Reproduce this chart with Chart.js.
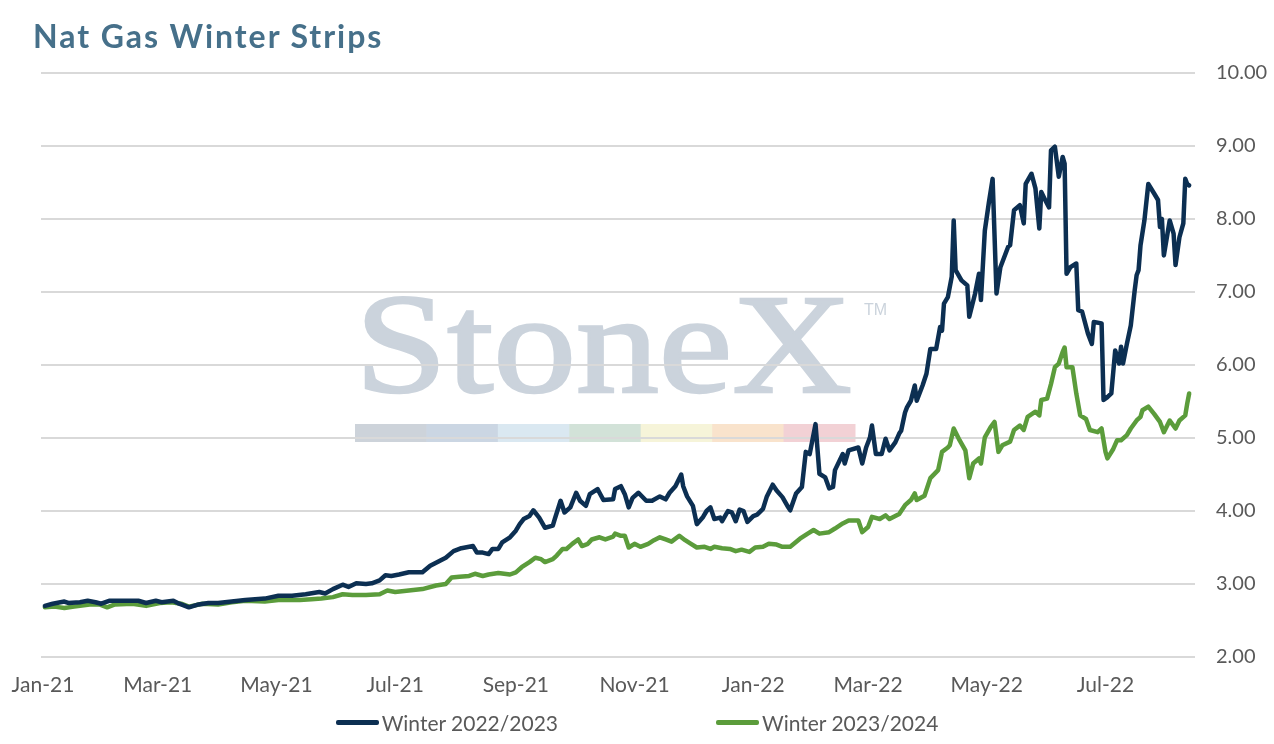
<!DOCTYPE html>
<html>
<head>
<meta charset="utf-8">
<title>Nat Gas Winter Strips</title>
<script src="https://cdn.jsdelivr.net/npm/chart.js@4.4.0/dist/chart.umd.min.js"></script>
<style>
  html, body { margin: 0; padding: 0; background: #ffffff; }
  #wrap { position: relative; width: 1274px; height: 744px; overflow: hidden; }
  #chart { position: absolute; left: 0; top: 0; }
  #title { position: absolute; left: 33px; top: 16px; margin: 0;
           font-family: Lato, sans-serif; font-weight: 700; font-size: 32px;
           letter-spacing: 1.95px; color: #46708a; white-space: nowrap; }
  #legend { position: absolute; left: 0; top: 708px; width: 1274px; height: 28px;
            display: flex; justify-content: center; align-items: center; gap: 158px;
            font-family: Lato, sans-serif; font-size: 21px; color: #595959; }
  .item { display: flex; align-items: center; }
  .swatch { width: 43px; height: 5px; border-radius: 2px; margin-right: 3px; }
</style>
</head>
<body>
<div id="wrap">
  <canvas id="chart" width="1274" height="744"></canvas>
  <div id="title">Nat Gas Winter Strips</div>
  <div id="legend"></div>
</div>
<script>
// Days counted from 2021-01-01
const winter2223Days = [1,5,11,13,19,23,27,30,34,41,49,53,58,61,67,70,75,80,85,90,97,104,114,121,128,135,142,145,149,154,157,161,166,169,173,176,179,183,188,195,199,204,207,211,215,221,223,226,229,231,234,236,240,243,245,247,250,252,255,258,262,263,266,268,271,274,276,279,281,285,286,288,293,294,297,299,301,303,306,310,313,317,320,322,325,328,329,331,334,336,339,341,343,345,348,349,352,354,356,358,360,362,365,367,370,372,375,377,380,383,384,387,390,392,394,397,399,402,404,406,407,411,412,414,419,421,423,425,426,428,431,433,435,438,440,441,443,444,446,448,449,452,454,456,459,461,462,463,465,467,468,469,472,475,476,479,481,482,484,486,488,490,492,496,497,499,502,504,505,508,510,512,513,515,517,518,520,522,524,525,526,528,531,532,534,537,539,540,544,545,547,549,551,553,554,555,557,559,561,562,563,564,566,568,571,573,574,575,576,579,581,582,584,586,587,588,589];
const winter2223Values = [2.70,2.73,2.76,2.74,2.75,2.77,2.75,2.73,2.77,2.77,2.77,2.74,2.77,2.75,2.77,2.73,2.68,2.72,2.74,2.74,2.76,2.78,2.80,2.84,2.84,2.86,2.89,2.87,2.93,2.99,2.96,3.01,3.00,3.01,3.05,3.12,3.11,3.13,3.16,3.16,3.25,3.32,3.36,3.45,3.49,3.52,3.43,3.43,3.41,3.48,3.48,3.57,3.64,3.73,3.82,3.89,3.93,4.01,3.91,3.77,3.80,3.89,4.14,3.98,4.05,4.25,4.14,4.07,4.23,4.30,4.25,4.15,4.16,4.30,4.34,4.23,4.05,4.18,4.25,4.14,4.14,4.20,4.16,4.25,4.34,4.50,4.34,4.20,4.07,3.82,3.91,4.00,4.05,3.89,3.91,3.86,4.00,3.98,3.86,4.02,4.00,3.85,3.93,3.95,4.03,4.20,4.36,4.28,4.19,4.05,4.01,4.24,4.33,4.81,4.78,5.19,4.51,4.46,4.31,4.33,4.56,4.78,4.65,4.83,4.87,4.65,4.87,5.01,5.17,4.78,4.78,4.99,4.83,4.94,5.06,5.10,5.35,5.42,5.51,5.72,5.51,5.72,5.88,6.22,6.22,6.52,6.47,6.84,6.93,7.21,7.98,7.30,7.16,7.09,6.66,6.98,7.25,6.89,7.84,8.21,8.55,6.98,7.34,7.62,7.64,8.12,8.19,7.94,8.48,8.62,8.42,7.87,8.37,8.26,8.16,8.94,8.99,8.58,8.85,8.76,7.25,7.34,7.39,6.75,6.73,6.43,6.29,6.59,6.57,5.52,5.56,5.61,6.20,6.02,6.25,6.02,6.29,6.54,7.02,7.23,7.30,7.64,7.98,8.48,8.35,8.26,7.89,8.00,7.50,7.98,7.80,7.37,7.75,7.94,8.55,8.48,8.46];

const winter2324Days = [1,6,11,16,24,29,33,37,46,53,60,66,71,75,82,90,97,104,114,121,132,138,143,149,154,159,166,173,177,181,188,195,202,207,210,214,219,222,226,229,234,240,243,246,250,253,256,258,262,264,267,269,272,275,277,280,282,286,289,293,294,297,299,301,304,307,311,314,317,320,323,327,330,333,336,340,343,345,349,353,356,359,363,366,370,373,377,380,384,389,393,396,399,404,407,411,414,419,421,424,426,430,433,435,440,443,446,448,449,453,456,460,462,465,466,468,471,474,476,478,481,482,484,487,489,491,493,497,499,502,504,506,510,512,513,516,518,520,522,524,525,526,529,531,533,536,538,542,544,546,547,550,552,554,557,559,562,564,565,568,571,574,576,579,582,584,587,588,589];
const winter2324Values = [2.68,2.69,2.67,2.69,2.72,2.72,2.68,2.72,2.73,2.70,2.74,2.75,2.73,2.69,2.73,2.72,2.75,2.77,2.76,2.78,2.78,2.79,2.80,2.82,2.86,2.85,2.85,2.86,2.91,2.89,2.91,2.93,2.98,3.00,3.09,3.10,3.11,3.14,3.11,3.13,3.15,3.13,3.16,3.23,3.30,3.36,3.34,3.30,3.34,3.39,3.48,3.48,3.55,3.61,3.52,3.55,3.61,3.64,3.61,3.65,3.69,3.66,3.66,3.50,3.55,3.51,3.55,3.60,3.64,3.61,3.58,3.66,3.60,3.55,3.50,3.51,3.48,3.51,3.49,3.48,3.45,3.47,3.44,3.50,3.51,3.55,3.54,3.51,3.51,3.62,3.69,3.74,3.69,3.71,3.76,3.83,3.87,3.87,3.71,3.78,3.92,3.89,3.94,3.89,3.96,4.08,4.15,4.24,4.15,4.21,4.45,4.56,4.81,4.87,4.90,5.13,4.97,4.83,4.45,4.65,4.72,4.65,5.01,5.15,5.22,4.81,4.90,4.95,5.11,5.17,5.11,5.29,5.36,5.31,5.52,5.54,5.74,5.97,6.02,6.18,6.24,5.97,5.97,5.61,5.31,5.26,5.11,5.08,5.13,4.81,4.72,4.85,4.97,4.97,5.04,5.13,5.24,5.29,5.38,5.43,5.33,5.22,5.08,5.24,5.13,5.24,5.31,5.47,5.61];

const seriesLabels = ['Winter 2022/2023', 'Winter 2023/2024'];
const seriesColors = ['#0c2f52', '#5b9c3b'];

const tickDays = [0, 59, 120, 181, 243, 304, 365, 424, 485, 546];
const tickLabels = ['Jan-21', 'Mar-21', 'May-21', 'Jul-21', 'Sep-21', 'Nov-21', 'Jan-22', 'Mar-22', 'May-22', 'Jul-22'];

const watermarkColors = ['#cdd3da', '#cbd6e3', '#dae8f1', '#d2e2d8', '#f6f4d9', '#f9e3cc', '#f2d1d5'];

function toPoints(days, values) {
  return days.map((d, i) => ({ x: d, y: values[i] }));
}

const watermark = {
  id: 'watermark',
  beforeDraw(chart) {
    const ctx = chart.ctx;
    ctx.save();
    ctx.fillStyle = '#cbd3dc';
    ctx.font = '142px "Liberation Serif", serif';
    ctx.textBaseline = 'alphabetic';
    const w = ctx.measureText('StoneX').width;
    ctx.translate(355, 392);
    ctx.scale(497 / w, 1);
    ctx.fillText('StoneX', 0, 0);
    ctx.lineWidth = 2.5;
    ctx.strokeStyle = '#cbd3dc';
    ctx.strokeText('StoneX', 0, 0);
    ctx.restore();
    ctx.save();
    ctx.fillStyle = '#cbd3dc';
    ctx.font = '16px "Liberation Sans", sans-serif';
    ctx.textBaseline = 'top';
    ctx.fillText('TM', 864, 303);
    const segW = 500 / watermarkColors.length;
    watermarkColors.forEach((c, i) => {
      ctx.fillStyle = c;
      ctx.fillRect(355 + i * segW, 424, segW + 0.5, 18);
    });
    ctx.restore();
  }
};

const chart = new Chart(document.getElementById('chart'), {
  type: 'line',
  data: {
    datasets: [
      { label: seriesLabels[0], data: toPoints(winter2223Days, winter2223Values),
        borderColor: seriesColors[0], backgroundColor: seriesColors[0],
        borderWidth: 4.5, pointRadius: 0, tension: 0, borderJoinStyle: 'round', borderCapStyle: 'round' },
      { label: seriesLabels[1], data: toPoints(winter2324Days, winter2324Values),
        borderColor: seriesColors[1], backgroundColor: seriesColors[1],
        borderWidth: 4.5, pointRadius: 0, tension: 0, borderJoinStyle: 'round', borderCapStyle: 'round' }
    ]
  },
  options: {
    responsive: false,
    animation: false,
    devicePixelRatio: 1,
    layout: { padding: { left: 41, top: 73, right: 6, bottom: 47 } },
    plugins: { legend: { display: false }, tooltip: { enabled: false }, title: { display: false } },
    scales: {
      x: {
        type: 'linear', min: -1, max: 592,
        grid: { display: false, drawTicks: false },
        border: { display: false },
        afterBuildTicks(scale) { scale.ticks = tickDays.map(v => ({ value: v })); },
        afterFit(scale) { scale.height = 40; scale.paddingLeft = 0; scale.paddingRight = 0; },
        ticks: {
          autoSkip: false, maxRotation: 0, padding: 16,
          color: '#595959', font: { family: 'Lato', size: 21 },
          callback(value) { const i = tickDays.indexOf(value); return i >= 0 ? tickLabels[i] : ''; }
        }
      },
      y: {
        position: 'right', min: 2, max: 10,
        grid: { color: '#d9d9d9', lineWidth: 2, drawTicks: false },
        border: { display: false },
        afterFit(scale) { scale.width = 73; scale.paddingTop = 0; scale.paddingBottom = 0; },
        ticks: {
          stepSize: 1, padding: 21, color: '#595959', font: { family: 'Lato', size: 20 },
          callback(v) { return Number(v).toFixed(2); }
        }
      }
    }
  },
  plugins: [watermark]
});

const legendEl = document.getElementById('legend');
chart.data.datasets.forEach(ds => {
  const item = document.createElement('div');
  item.className = 'item';
  const sw = document.createElement('span');
  sw.className = 'swatch';
  sw.style.background = ds.borderColor;
  const tx = document.createElement('span');
  tx.textContent = ds.label;
  item.appendChild(sw);
  item.appendChild(tx);
  legendEl.appendChild(item);
});
</script>
</body>
</html>
